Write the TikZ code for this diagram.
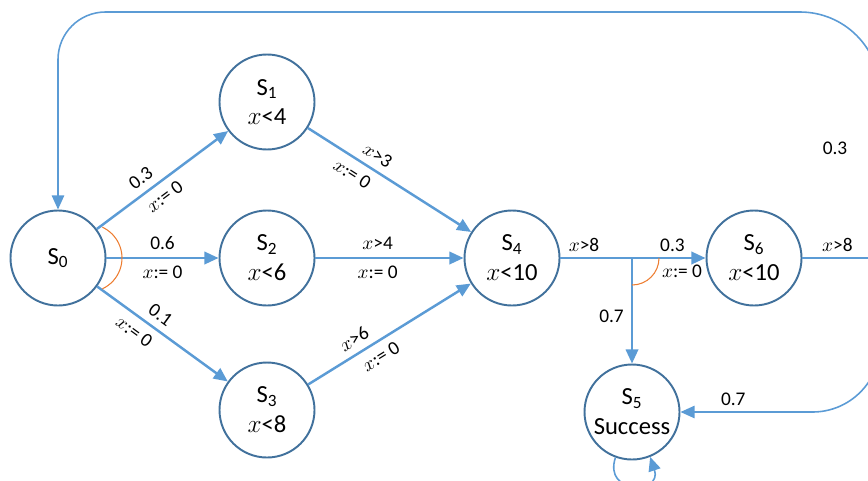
\documentclass[tikz,border=0pt]{standalone}
\usepackage{fontspec}
\setmainfont{Carlito}
\usetikzlibrary{arrows.meta}
\definecolor{edgeblue}{RGB}{91,155,213}
\definecolor{ringblue}{RGB}{65,113,156}
\definecolor{arcorange}{RGB}{237,125,49}
\begin{document}
\begin{tikzpicture}[
  state/.style={circle, draw=ringblue, line width=1.1pt, minimum size=1.9cm, inner sep=0pt, align=center, font=\fontsize{14}{17}\selectfont},
  trans/.style={draw=edgeblue, line width=1.4pt, -{Triangle[length=8pt,width=7pt]}},
  wire/.style={draw=edgeblue, line width=1.4pt},
  backline/.style={draw=edgeblue, line width=0.9pt},
  backarrow/.style={backline, -{Triangle[length=8pt,width=7pt]}},
  lbl/.style={font=\fontsize{11}{13}\selectfont, inner sep=1pt},
  andarc/.style={draw=arcorange, line width=0.6pt}
]
\useasboundingbox (0,0) rectangle (17.36,9.6);
\clip (0,0) rectangle (17.36,9.6);

\node[state] (S0) at (1.16,4.44) {S\textsubscript{0}};
\node[state] (S1) at (5.34,7.56) {S\textsubscript{1}\\$x$<4};
\node[state] (S2) at (5.34,4.44) {S\textsubscript{2}\\$x$<6};
\node[state] (S3) at (5.34,1.40) {S\textsubscript{3}\\$x$<8};
\node[state] (S4) at (10.24,4.44) {S\textsubscript{4}\\$x$<10};
\node[state] (S6) at (15.08,4.44) {S\textsubscript{6}\\$x$<10};
\node[state] (S5) at (12.64,1.36) {S\textsubscript{5}\\Success};
\coordinate (fork) at (12.64,4.44);
\coordinate (split) at (17.6,4.44);

\draw[trans] (S0) -- (S1) node[lbl, sloped, above=3pt, pos=0.4] {0.3} node[lbl, sloped, below=3pt, pos=0.45] {$x$:= 0};
\draw[trans] (S0) -- (S2) node[lbl, above=3pt, midway] {0.6} node[lbl, below=3pt, midway] {$x$:= 0};
\draw[trans] (S0) -- (S3) node[lbl, sloped, above=3pt, pos=0.42] {0.1} node[lbl, sloped, below=3pt, pos=0.35] {$x$:= 0};
\draw[andarc] ([shift={(0.6,0)}]S0.center) ++(-65:0.68) arc[start angle=-65, end angle=65, radius=0.68];

\draw[trans] (S1) -- (S4) node[lbl, sloped, above=3pt, pos=0.38] {$x$>3} node[lbl, sloped, below=3pt, pos=0.32] {$x$:= 0};
\draw[trans] (S2) -- (S4) node[lbl, above=3pt, pos=0.42] {$x$>4} node[lbl, below=3pt, pos=0.42] {$x$:= 0};
\draw[trans] (S3) -- (S4) node[lbl, sloped, above=3pt, pos=0.33] {$x$>6} node[lbl, sloped, below=3pt, pos=0.4] {$x$:= 0};

\draw[wire] (S4) -- (fork) node[lbl, above=2pt, pos=0.33] {$x$>8};
\draw[trans] (fork) -- (S6) node[lbl, above=2pt, pos=0.55] {0.3} node[lbl, below=2pt, pos=0.68] {$x$:= 0};
\draw[trans] (fork) -- (S5) node[lbl, left=3pt, pos=0.55] {0.7};
\draw[andarc] (fork) ++(0,-0.54) arc[start angle=-90, end angle=0, radius=0.54];

\draw[backarrow] (S5.-110) .. controls +(-0.25,-0.75) and +(0.25,-0.75) .. (S5.-68);

\draw[backline] (S6) -- (split) node[lbl, above=2pt, pos=0.45] {$x$>8};
\draw[backarrow] (split) -- (17.6,7.76) arc[start angle=0, end angle=90, radius=1.6] -- (2.11,9.36) arc[start angle=90, end angle=180, radius=0.95] -- (S0.north);
\node[lbl] (p03) at (16.7,6.64) {0.3};
\draw[backarrow] (split) -- (17.6,2.71) arc[start angle=0, end angle=-90, radius=1.35] -- (S5.east) node[lbl, above=2pt, pos=0.6] {0.7};
\end{tikzpicture}
\end{document}
